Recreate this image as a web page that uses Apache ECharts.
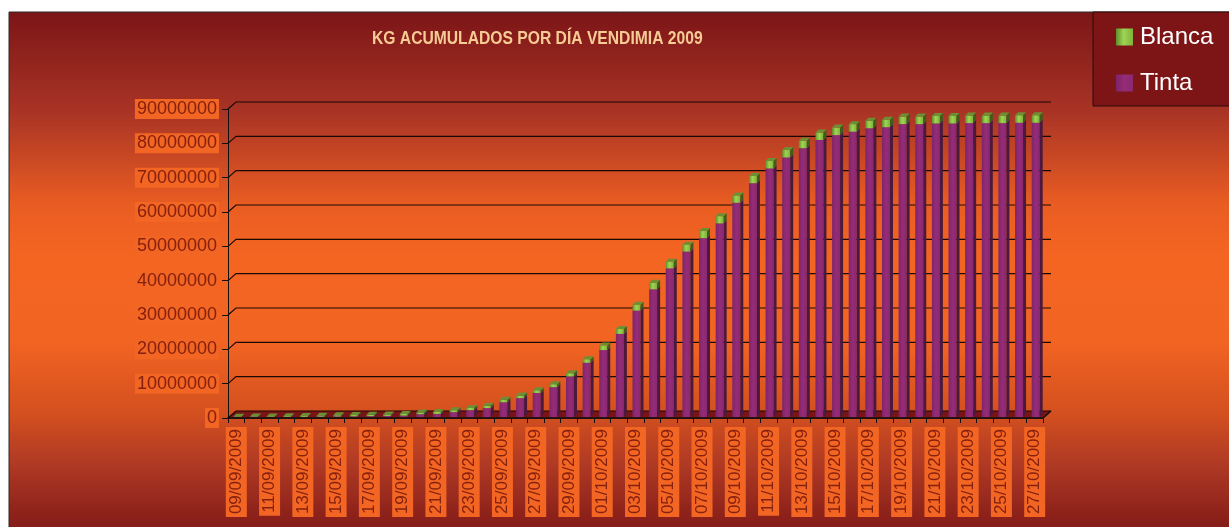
<!DOCTYPE html>
<html>
<head>
<meta charset="utf-8">
<title>KG acumulados por día vendimia 2009</title>
<script src="https://cdn.jsdelivr.net/npm/echarts@6.0.0/dist/echarts.min.js"></script>
<style>
  html, body { margin: 0; padding: 0; background: #fff; }
  #main { width: 1229px; height: 527px; }
</style>
</head>
<body>
<div id="main"></div>
<script>
// fechas (una barra por dia)
var categories = [
    '09/09/2009', '10/09/2009', '11/09/2009', '12/09/2009', '13/09/2009', '14/09/2009',
    '15/09/2009', '16/09/2009', '17/09/2009', '18/09/2009', '19/09/2009', '20/09/2009',
    '21/09/2009', '22/09/2009', '23/09/2009', '24/09/2009', '25/09/2009', '26/09/2009',
    '27/09/2009', '28/09/2009', '29/09/2009', '30/09/2009',
    '01/10/2009', '02/10/2009', '03/10/2009', '04/10/2009', '05/10/2009', '06/10/2009',
    '07/10/2009', '08/10/2009', '09/10/2009', '10/10/2009', '11/10/2009', '12/10/2009',
    '13/10/2009', '14/10/2009', '15/10/2009', '16/10/2009', '17/10/2009', '18/10/2009',
    '19/10/2009', '20/10/2009', '21/10/2009', '22/10/2009', '23/10/2009', '24/10/2009',
    '25/10/2009', '26/10/2009', '27/10/2009'
];

// kg acumulados de tinta (abajo)
var tinta = [
    0, 0, 0, 0, 50000, 100000, 150000, 200000, 250000, 300000, 400000,
    800000, 900000, 1400000, 2000000, 2600000, 4300000, 5500000, 7000000, 8700000,
    11800000, 15800000, 19500000,
    24200000, 31000000, 37200000, 43300000, 48200000, 52100000, 56400000, 62400000,
    68100000, 72400000, 75600000, 78300000, 80700000, 82100000, 83100000, 84100000,
    84400000, 85300000, 85300000, 85500000, 85500000, 85600000, 85600000, 85600000,
    85700000, 85700000
];

// kg acumulados de blanca (encima)
var blanca = [
    80000, 120000, 180000, 220000, 260000, 300000, 330000, 360000, 390000, 420000, 480000,
    520000, 550000, 580000, 620000, 660000, 700000, 750000, 800000, 850000,
    950000, 1000000, 1300000,
    1400000, 1700000, 1900000, 1950000, 2000000, 2050000, 2100000, 2100000,
    2100000, 2150000, 2150000, 2150000, 2150000, 2200000, 2200000, 2200000,
    2200000, 2200000, 2200000, 2200000, 2200000, 2200000, 2200000, 2200000,
    2200000, 2200000
];

var yTicks = [0, 10000000, 20000000, 30000000, 40000000, 50000000, 60000000, 70000000, 80000000, 90000000];

var WX = 8, WY = 7;   // fondo del "3D"
var BW = 8, BD = 3;   // ancho y profundidad de barra

var labelFont = '"Liberation Sans", Arial, sans-serif';

function bar3d(front, side, top) {
    return function (params, api) {
        var i = api.value(0);
        var p0 = api.coord([i, api.value(1)]);
        var p1 = api.coord([i, api.value(2)]);
        var x0 = p0[0] - BW / 2 + 1;
        var yb = p0[1] - 1;
        var yt = p1[1] - 1;
        return {
            type: 'group',
            children: [
                {type: 'rect', shape: {x: x0, y: yt, width: BW, height: yb - yt}, style: {fill: front}},
                {type: 'polygon', shape: {points: [[x0 + BW, yb], [x0 + BW + BD, yb - BD], [x0 + BW + BD, yt - BD], [x0 + BW, yt]]}, style: {fill: side}},
                {type: 'polygon', shape: {points: [[x0, yt], [x0 + BD, yt - BD], [x0 + BW + BD, yt - BD], [x0 + BW, yt]]}, style: {fill: top}}
            ]
        };
    };
}

function wall(params, api) {
    var v = api.value(1);
    var cw = api.size([1, 0])[0];
    var p = api.coord([0, v]);
    var L = p[0] - cw / 2;
    var R = api.coord([categories.length - 1, v])[0] + cw / 2;
    var y = p[1];
    var kids = [];
    if (v === 0) {
        kids.push({type: 'polygon', shape: {points: [[L, y], [R, y], [R + WX, y - WY], [L + WX, y - WY]]}, style: {fill: '#7a1416'}});
        kids.push({type: 'polyline', shape: {points: [[L, y], [R, y], [R + WX, y - WY]]}, style: {stroke: '#111', lineWidth: 1.5, fill: null}});
    }
    kids.push({type: 'polyline', shape: {points: [[L, y], [L + WX, y - WY], [R + WX, y - WY]]}, style: {stroke: '#1a0805', lineWidth: 1.2, fill: null}});
    return {type: 'group', children: kids};
}

var greenFront = new echarts.graphic.LinearGradient(0, 0, 1, 0, [
    {offset: 0, color: '#5f8f2a'}, {offset: 0.45, color: '#9fd454'}, {offset: 1, color: '#7fb33a'}
]);
var purpleFront = new echarts.graphic.LinearGradient(0, 0, 1, 0, [
    {offset: 0, color: '#7e2468'}, {offset: 0.5, color: '#952c78'}, {offset: 1, color: '#8a2870'}
]);

var myChart = echarts.init(document.getElementById('main'));
option = {
    animation: false,
    backgroundColor: '#fff',
    graphic: [
        {
            type: 'rect',
            z: -10,
            shape: {x: 9, y: 12, width: 1240, height: 530},
            style: {
                fill: new echarts.graphic.LinearGradient(0, 0, 0, 1, [
                    {offset: 0, color: '#7c1517'},
                    {offset: 0.19, color: '#a93425'},
                    {offset: 0.365, color: '#ea5d22'},
                    {offset: 0.46, color: '#f46522'},
                    {offset: 0.62, color: '#f26422'},
                    {offset: 0.755, color: '#d4501f'},
                    {offset: 0.85, color: '#b03a24'},
                    {offset: 1, color: '#7a1515'}
                ]),
                stroke: '#2a2a2a',
                lineWidth: 1
            }
        },
        {
            // titulo, estrechado como en el original
            type: 'text',
            x: 372,
            y: 30,
            scaleX: 0.87,
            z: 10,
            style: {
                text: 'KG ACUMULADOS POR DÍA VENDIMIA 2009',
                fill: '#f7cb94',
                fontSize: 18,
                fontWeight: 'bold',
                fontFamily: labelFont,
                textVerticalAlign: 'top'
            }
        }
    ],
    legend: {
        data: ['Blanca', 'Tinta'],
        orient: 'vertical',
        left: 1093,
        top: 12,
        padding: [13, 30, 11, 23],
        itemGap: 22,
        itemWidth: 17,
        itemHeight: 17,
        backgroundColor: '#7d1516',
        borderColor: '#2a0a0a',
        borderWidth: 1,
        borderRadius: 0,
        icon: 'rect',
        textStyle: {
            color: '#fff',
            fontSize: 24,
            lineHeight: 24,
            fontFamily: labelFont,
            padding: [0, 0, 0, 2]
        }
    },
    grid: {
        left: 228,
        right: 186,
        top: 109,
        bottom: 109,
        containLabel: false,
        outerBoundsMode: 'none'
    },
    xAxis: {
        type: 'category',
        data: categories,
        boundaryGap: true,
        axisLine: {show: true, lineStyle: {color: '#111', width: 1.5}},
        axisTick: {show: true, interval: 0, length: 5, lineStyle: {color: '#111'}},
        axisLabel: {
            interval: 1,
            rotate: 90,
            margin: 9,
            color: '#86200f',
            fontSize: 17,
            fontFamily: labelFont,
            backgroundColor: '#f26522',
            padding: [2, 2, 1, 3],
            lineHeight: 18
        },
        splitLine: {show: false}
    },
    yAxis: {
        type: 'value',
        min: 0,
        max: 90000000,
        interval: 10000000,
        axisLine: {show: true, lineStyle: {color: '#111', width: 1}},
        axisTick: {show: true, length: 6, lineStyle: {color: '#111'}},
        axisLabel: {
            margin: 9,
            color: '#86200f',
            fontSize: 18,
            fontFamily: labelFont,
            backgroundColor: '#f26522',
            padding: [1, 2, 1, 2],
            formatter: function (v) { return String(v); }
        },
        splitLine: {show: false}
    },
    series: [
        {
            name: 'pared',
            type: 'custom',
            clip: false,
            silent: true,
            renderItem: wall,
            data: yTicks.map(function (v) { return [0, v]; })
        },
        {
            name: 'Tinta',
            type: 'custom',
            clip: false,
            itemStyle: {color: purpleFront},
            renderItem: bar3d(purpleFront, '#4b183e', '#6e2a62'),
            data: tinta.map(function (v, i) { return [i, 0, v]; })
        },
        {
            name: 'Blanca',
            type: 'custom',
            clip: false,
            itemStyle: {color: greenFront},
            renderItem: bar3d(greenFront, '#3d5e1a', '#6d8f34'),
            data: blanca.map(function (v, i) { return [i, tinta[i], tinta[i] + v]; })
        }
    ]
};
myChart.setOption(option);
</script>
</body>
</html>
